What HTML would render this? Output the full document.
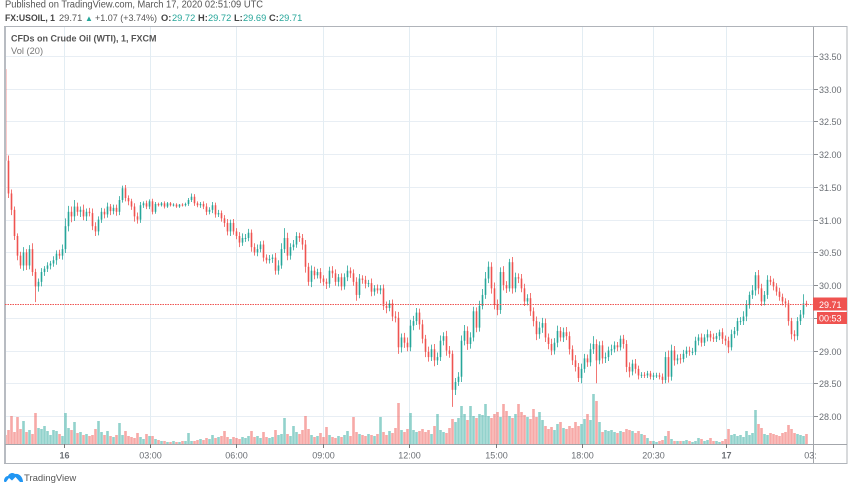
<!DOCTYPE html>
<html lang="en">
<head>
<meta charset="utf-8">
<title>USOIL chart</title>
<style>
html,body{margin:0;padding:0;background:#fff;width:852px;height:485px;overflow:hidden}
svg{display:block;font-family:"Liberation Sans",sans-serif}
</style>
</head>
<body>
<svg id="chart" xmlns="http://www.w3.org/2000/svg" width="852" height="485" viewBox="0 0 852 485">
  <text x="5" y="7.500" font-size="9.800" fill="#555" textLength="258" lengthAdjust="spacingAndGlyphs">Published on TradingView.com, March 17, 2020 02:51:09 UTC</text>
  <g font-size="9.300">
    <text x="5" y="21" font-weight="bold" fill="#444" textLength="50" lengthAdjust="spacingAndGlyphs">FX:USOIL, 1</text>
    <text x="59" y="21" fill="#555">29.71</text>
    <text x="85" y="21" fill="#26a69a" font-size="8">▲</text>
    <text x="95" y="21" fill="#555" textLength="62" lengthAdjust="spacingAndGlyphs">+1.07 (+3.74%)</text>
    <text x="161" y="21" font-weight="bold" fill="#444">O:</text>
    <text x="172" y="21" fill="#26a69a">29.72</text>
    <text x="198" y="21" font-weight="bold" fill="#444">H:</text>
    <text x="208" y="21" fill="#26a69a">29.72</text>
    <text x="234" y="21" font-weight="bold" fill="#444">L:</text>
    <text x="243" y="21" fill="#26a69a">29.69</text>
    <text x="269" y="21" font-weight="bold" fill="#444">C:</text>
    <text x="279" y="21" fill="#26a69a">29.71</text>
  </g>
  <rect x="4.500" y="26.500" width="842.500" height="437" fill="none" stroke="#b0b4ba" stroke-width="1"/>
  <g id="grid"></g>
  <g id="volume"></g>
  <g id="candles"></g>
  <line x1="5" y1="27" x2="5" y2="463" stroke="#b8bcc2" stroke-width="2"/>
  <line id="lastLine" x1="5" x2="813" stroke="#ef5350" stroke-width="1" stroke-dasharray="1.500 1"/>
  <line x1="813.500" y1="27" x2="813.500" y2="463" stroke="#a3a6ab" stroke-width="1"/>
  <line x1="5" y1="444.500" x2="847" y2="444.500" stroke="#a3a6ab" stroke-width="1"/>
  <g id="priceAxis"></g>
  <g id="timeAxis"></g>
  <rect id="lastBox" x="813" width="34" height="13" fill="#ef5350"/>
  <text id="lastText" x="819" font-size="9" fill="#fff"></text>
  <rect id="cdBox" x="817" width="30" height="12" fill="#ef5350"/>
  <text id="cdText" x="819" font-size="9" fill="#fff">00:53</text>
  <text x="11" y="41.500" font-size="9" font-weight="bold" fill="#555">CFDs on Crude Oil (WTI), 1, FXCM</text>
  <text x="11" y="54" font-size="9.300" fill="#777">Vol (20)</text>
  <g>
    <path d="M4 481 C4 478 6 476 8 476 C9 473 13 472 15 474 C19 473 23 477 23 482 L20 482 L15.500 477 L12 480.500 L9 478 L6 482 L4.500 482 Z" fill="#2196f3"/>
    <text x="24" y="481" font-size="9.500" fill="#555">TradingView</text>
  </g>
</svg>
<script>
const closes = [
31.9,31.4,31.15,30.75,30.45,30.3,30.5,30.3,30.55,30.2,29.98,30.05,30.2,30.25,30.3,30.33,30.38,30.48,30.45,30.55,
30.9,31.12,31.05,31.2,31.12,31.15,31.05,31.12,31.1,30.9,30.82,31,31.12,31.08,31.2,31.13,31.18,31.12,31.3,31.48,
31.33,31.28,31.2,31.05,31,31.22,31.25,31.2,31.28,31.12,31.24,31.22,31.25,31.2,31.25,31.22,31.23,31.2,31.23,31.22,
31.24,31.3,31.35,31.25,31.22,31.24,31.2,31.12,31.15,31.22,31.08,31.1,31.02,30.95,30.82,30.95,30.82,30.75,30.65,30.72,
30.72,30.8,30.58,30.5,30.55,30.62,30.42,30.38,30.4,30.42,30.22,30.3,30.55,30.72,30.45,30.58,30.62,30.75,30.72,30.62,
30.28,30.05,30.22,30.15,30.2,30.1,30.05,30.02,30.22,30.18,30.05,30.12,29.98,30.12,30.22,30.18,30.05,29.85,30.1,30.08,
30.02,30.03,29.9,29.95,29.92,29.95,29.68,29.65,29.72,29.52,29.5,29.05,29.2,29.12,29.05,29.38,29.45,29.58,29.4,29.18,
28.98,28.9,29.02,28.85,28.9,29.15,29.22,29,28.95,28.4,28.52,28.6,29.15,29.3,29.1,29.2,29.6,29.35,29.68,29.85,
30.1,30.28,29.95,29.7,29.62,30.2,30,29.95,30.35,29.95,30.12,30.1,29.95,29.75,29.8,29.6,29.45,29.25,29.35,29.42,
29.2,29.1,29,29.12,29.3,29.2,29.28,29.22,29.02,28.85,28.75,28.58,28.72,28.88,28.82,29.02,29.1,28.85,29.08,28.88,
28.9,29,29.02,29.08,29.05,29.18,29.1,28.75,28.68,28.8,28.72,28.62,28.63,28.62,28.65,28.6,28.62,28.62,28.6,28.55,
28.9,28.6,29,28.85,28.88,28.87,28.95,29,28.98,28.98,29.15,29.2,29.12,29.2,29.25,29.2,29.18,29.22,29.28,29.18,
29.15,29.05,29.25,29.3,29.45,29.45,29.52,29.7,29.85,29.92,30.15,29.95,29.75,29.85,30.08,30.05,29.98,29.9,29.82,29.75,
29.72,29.45,29.25,29.22,29.45,29.55,29.72,29.71];
const firstOpen = 33.3;
const wickUp = [
0,8,6,5,4,6,8,5,6,9,5,5,6,4,5,4,6,5,6,7,
12,9,8,10,6,5,8,5,6,7,6,5,6,5,6,4,5,5,6,4,
5,4,4,5,6,5,3,4,3,4,3,2,2,3,2,2,2,2,1,2,
2,3,5,4,3,3,4,5,4,5,4,5,4,5,6,5,6,5,6,7,
6,6,5,6,7,5,6,5,6,5,7,8,9,15,8,6,7,6,5,6,
7,6,8,6,5,6,5,5,6,7,6,5,6,6,8,5,6,7,7,5,
6,5,7,5,6,5,6,7,5,6,8,9,6,7,8,9,8,7,6,7,
6,8,7,8,7,8,6,8,7,5,6,7,8,9,7,8,7,6,8,9,
10,8,7,9,8,7,9,6,5,8,7,6,7,7,6,8,6,7,9,8,
7,6,8,7,8,6,7,8,7,6,8,6,8,7,6,9,12,7,6,7,
7,6,7,6,5,5,6,6,7,6,7,5,4,4,4,4,4,4,4,5,
8,10,9,7,6,7,6,6,6,6,6,5,6,5,7,5,6,5,4,6,
5,6,7,6,5,6,8,7,5,8,5,8,7,6,7,6,5,5,6,5,
5,5,5,6,6,7,14,4];
const wickDown = [
18,7,8,6,7,5,8,7,6,6,24,8,7,6,5,6,5,7,5,6,
6,8,9,7,6,8,6,7,5,6,7,6,5,6,5,6,5,6,5,4,
5,6,5,8,6,5,4,4,4,4,3,2,2,3,2,2,2,2,2,2,
2,3,3,4,3,4,4,5,4,5,5,4,5,6,6,7,5,5,7,5,
6,5,7,5,6,5,6,5,5,6,6,6,5,6,7,6,5,5,6,8,
9,6,8,6,5,7,6,8,6,7,6,7,6,5,6,7,6,9,5,6,
7,5,7,6,5,6,6,8,5,7,7,10,8,8,6,6,7,6,8,7,
8,7,6,9,7,6,7,8,6,26,8,6,8,7,9,7,6,7,6,5,
6,7,8,7,8,6,8,7,5,8,6,7,6,7,6,7,8,9,7,8,
7,8,7,6,7,6,7,6,8,7,7,6,8,6,7,6,7,35,6,8,
7,6,7,5,6,5,7,8,9,6,7,6,4,4,4,4,5,4,4,6,
5,9,6,8,6,7,5,6,6,5,5,7,6,5,6,6,5,5,6,8,
7,9,5,6,7,6,6,7,6,6,8,9,7,6,6,5,6,6,6,6,
6,7,8,8,6,6,5,4];
const volumes = [
9,14,28,12,27,15,23,12,14,10,31,16,15,18,13,9,14,13,10,8,
31,16,14,22,11,12,9,10,8,9,15,23,12,9,13,8,7,9,21,9,
13,8,7,6,11,7,5,10,8,8,5,4,3,3,2,2,3,2,2,3,
3,11,3,3,4,5,4,6,5,9,6,7,8,13,7,5,7,6,5,7,
6,8,13,7,8,6,12,7,6,7,14,9,10,26,10,8,18,12,10,14,
28,15,9,7,8,11,7,17,9,7,6,8,7,9,13,8,27,12,10,9,
8,10,9,8,10,27,12,9,13,11,16,41,14,12,15,31,14,12,13,15,
12,14,10,18,30,14,12,11,16,25,22,26,38,30,24,38,28,26,30,29,
40,28,26,30,32,27,40,33,28,26,30,40,32,29,27,25,35,27,32,24,
18,15,17,14,20,22,16,15,18,16,22,18,20,25,30,24,50,43,22,12,
14,13,14,12,11,13,12,15,14,13,11,13,10,9,6,3,3,2,3,4,
8,13,5,3,3,3,3,4,3,2,3,6,5,3,4,6,3,3,2,3,
5,15,9,10,8,9,7,13,9,11,34,20,16,10,9,11,10,9,8,11,
12,19,15,11,10,9,8,10];
const priceTicks = [33.5,33,32.5,32,31.5,31,30.5,30,29.5,29,28.5,28];
const timeLabels = ["16","03:00","06:00","09:00","12:00","15:00","18:00","20:30","17","03:"];
const timeBars = [19.5,48.2,76.8,105.8,134.5,163.5,192.2,215.8,240.2,268.2];
const lastPrice = 29.71;

const NS = "http://www.w3.org/2000/svg";
const UP = "#26a69a", DOWN = "#ef5350";
function xScale(i){ return 5.5 + i * 3; }
function yScale(p){ return 416 - (p - 28) * 65.45; }
function volHeight(v){ return v; }
function mk(parent, tag, attrs){
  const el = document.createElementNS(NS, tag);
  for (const k in attrs) el.setAttribute(k, attrs[k]);
  parent.appendChild(el);
  return el;
}
const grid = document.getElementById("grid");
const volG = document.getElementById("volume");
const candleG = document.getElementById("candles");
const priceG = document.getElementById("priceAxis");
const timeG = document.getElementById("timeAxis");

priceTicks.forEach(function(p){
  const y = Math.round(yScale(p)) + 0.5;
  const g = mk(grid, "line", {x1:5, x2:813, y1:y, y2:y, stroke:"#e8eef4", "stroke-width":1});
  
  
  const t = mk(priceG, "line", {x1:814, x2:818, y1:y, y2:y, stroke:"#8a8d92", "stroke-width":1});
  
  
  const l = mk(priceG, "text", {x:819, y:y + 3.3, "font-size":9, fill:"#6b6f75"});
  l.textContent = p.toFixed(2);
  
  
});
timeLabels.forEach(function(lab, k){
  const x = Math.round(xScale(timeBars[k])) + 0.5;
  if (k < timeLabels.length - 1) {
    const g = mk(grid, "line", {x1:x, x2:x, y1:27, y2:444, stroke:"#e3edf3", "stroke-width":1});
    
    
    const t = mk(timeG, "line", {x1:x, x2:x, y1:444, y2:448, stroke:"#777", "stroke-width":1});
    
    
  }
  const l = mk(timeG, "text", {x:x, y:458.5, "font-size":9, "text-anchor":"middle", fill:"#6b6f75"});
  if (k === 0 || lab === "17") l.setAttribute("font-weight", "bold");
  l.textContent = lab;
  
  
});
closes.forEach(function(c, i){
  const o = i === 0 ? firstOpen : closes[i - 1];
  const color = c >= o ? UP : DOWN;
  const x = xScale(i);
  const h = volHeight(volumes[i] || 0);
  const bar = mk(volG, "rect", {x:x - 1.3, y:444 - h, width:2.6, height:h, fill:color, "fill-opacity":0.5});
  
  
  const hi = Math.max(o, c) + (wickUp[i] || 0) / 100;
  const lo = Math.min(o, c) - (wickDown[i] || 0) / 100;
  const w = mk(candleG, "line", {x1:x, x2:x, y1:yScale(hi), y2:yScale(lo), stroke:color, "stroke-width":0.8});
  
  
  const top = yScale(Math.max(o, c));
  const bh = Math.max(1, Math.abs(yScale(o) - yScale(c)));
  const b = mk(candleG, "rect", {x:x - 0.8, y:top, width:1.6, height:bh, fill:color});
  
  
});
const ly = Math.round(yScale(lastPrice)) + 0.5;
const line = document.getElementById("lastLine");
line.setAttribute("y1", ly);
line.setAttribute("y2", ly);
document.getElementById("lastBox").setAttribute("y", ly - 7);
const lt = document.getElementById("lastText");
lt.setAttribute("y", ly + 3.3);
lt.textContent = lastPrice.toFixed(2);
document.getElementById("cdBox").setAttribute("y", ly + 7.5);
document.getElementById("cdText").setAttribute("y", ly + 16.8);
</script>
</body>
</html>
